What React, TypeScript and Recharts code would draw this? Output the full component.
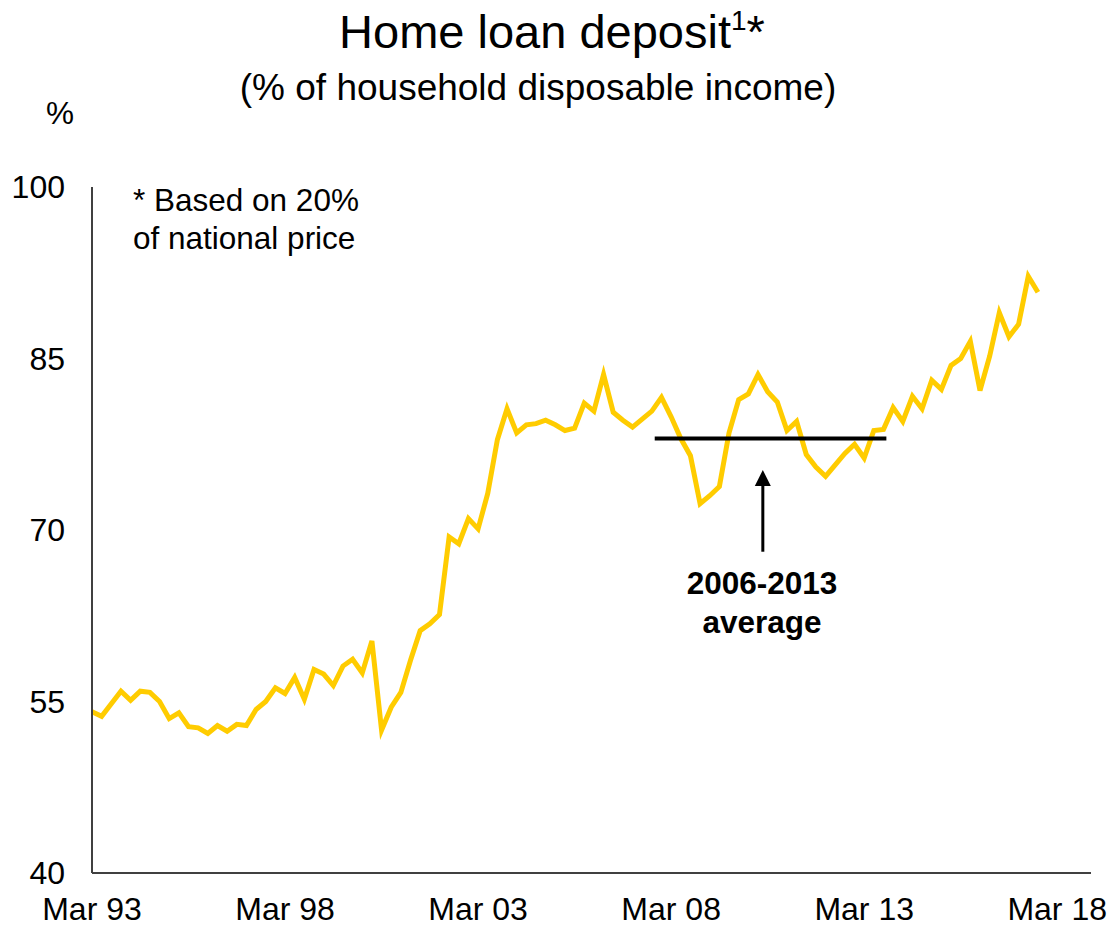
import React from "react";
import { LineChart, Line, XAxis, YAxis, ReferenceLine } from "recharts";

// quarterly, Mar 93 .. Sep 17
const quarterMonths = ["Mar", "Jun", "Sep", "Dec"];
const firstYear = 1993;

const deposit = [
  54.1, 53.7, 54.8, 55.9, 55.1, 55.9, 55.8, 55.0, 53.5, 54.0,
  52.8, 52.7, 52.2, 52.9, 52.4, 53.0, 52.9, 54.3, 55.0, 56.2,
  55.7, 57.1, 55.2, 57.8, 57.4, 56.4, 58.1, 58.7, 57.5, 60.3,
  52.5, 54.5, 55.8, 58.6, 61.2, 61.8, 62.6, 69.4, 68.8, 71.0,
  70.1, 73.2, 77.9, 80.6, 78.5, 79.2, 79.3, 79.6, 79.2, 78.7,
  78.9, 81.1, 80.4, 83.6, 80.3, 79.6, 79.0, 79.7, 80.4, 81.6,
  79.9, 78.0, 76.5, 72.3, 73.0, 73.8, 78.5, 81.4, 81.9, 83.6,
  82.1, 81.2, 78.7, 79.5, 76.6, 75.5, 74.7, 75.7, 76.7, 77.5,
  76.3, 78.7, 78.8, 80.7, 79.5, 81.7, 80.6, 83.1, 82.3, 84.4,
  85.0, 86.5, 82.2, 85.2, 89.0, 86.9, 88.0, 92.2, 90.8,
];

const xTicks = [0, 20, 40, 60, 80, 100];
const xTickLabels = ["Mar 93", "Mar 98", "Mar 03", "Mar 08", "Mar 13", "Mar 18"];
const yTicks = [40, 55, 70, 85, 100];

// 2006-2013 average marker
const avgValue = 78.0;
const avgFrom = 58.3;
const avgTo = 82.3;
const arrowAt = 69.5;
const arrowBottom = 68.1;
const arrowTop = 75.25;

const data = deposit.map((v, i) => ({
  q: i,
  label: `${quarterMonths[i % 4]} ${String((firstYear + Math.floor(i / 4)) % 100).padStart(2, "0")}`,
  deposit: v,
}));

const font = "'Liberation Sans', Arial, sans-serif";

function Arrow(props: any) {
  const { x1, y1, y2 } = props;
  const bottom = Math.max(y1, y2);
  const top = Math.min(y1, y2);
  const x = x1;
  return (
    <g>
      <line x1={x} y1={bottom} x2={x} y2={top + 14} stroke="#000" strokeWidth={3} />
      <polygon points={`${x},${top} ${x - 8},${top + 16} ${x + 8},${top + 16}`} fill="#000" />
    </g>
  );
}

export default function App() {
  return (
    <div style={{ position: "absolute", left: 0, top: 0, width: 1109, height: 927, background: "#fff", fontFamily: font }}>
      <LineChart
        width={1109}
        height={927}
        data={data}
        margin={{ top: 187, right: 18, bottom: 4, left: 32 }}
      >
        <XAxis
          dataKey="q"
          type="number"
          domain={[0, 103.5]}
          ticks={xTicks}
          tickFormatter={(v) => xTickLabels[xTicks.indexOf(v)] ?? ""}
          height={50}
          axisLine={{ stroke: "#404040", strokeWidth: 2 }}
          tickLine={false}
          tickSize={6}
          tickMargin={18}
          tick={{ fontSize: 32, fill: "#000", fontFamily: font }}
        />
        <YAxis
          type="number"
          domain={[40, 100]}
          ticks={yTicks}
          width={60}
          axisLine={{ stroke: "#404040", strokeWidth: 2 }}
          tickLine={false}
          tickSize={6}
          tickMargin={21}
          tick={{ fontSize: 32, fill: "#000", fontFamily: font }}
        />
        <Line
          type="linear"
          dataKey="deposit"
          stroke="#FFCC00"
          strokeWidth={5}
          dot={false}
          isAnimationActive={false}
        />
        <ReferenceLine
          segment={[{ x: avgFrom, y: avgValue }, { x: avgTo, y: avgValue }]}
          stroke="#000"
          strokeWidth={4}
        />
        <ReferenceLine
          segment={[{ x: arrowAt, y: arrowBottom }, { x: arrowAt, y: arrowTop }]}
          shape={Arrow}
        />
      </LineChart>
      <svg
        width={1109}
        height={927}
        style={{ position: "absolute", left: 0, top: 0, pointerEvents: "none" }}
        fontFamily={font}
      >
        <text x={552} y={48} textAnchor="middle" fontSize={47} fill="#000">
          Home loan deposit
          <tspan fontSize={28} dy={-18}>1</tspan>
          <tspan fontSize={47} dy={18}>*</tspan>
        </text>
        <text x={538} y={100} textAnchor="middle" fontSize={37} fill="#000">
          (% of household disposable income)
        </text>
        <text x={60} y={124} textAnchor="middle" fontSize={31.5} fill="#000">%</text>
        <text x={133} y={211} fontSize={31.5} fill="#000">* Based on 20%</text>
        <text x={133} y={249} fontSize={31.5} fill="#000">of national price</text>
        <text x={762} y={594} textAnchor="middle" fontSize={31.5} fontWeight="bold" fill="#000">2006-2013</text>
        <text x={762} y={633} textAnchor="middle" fontSize={31.5} fontWeight="bold" fill="#000">average</text>
      </svg>
    </div>
  );
}
